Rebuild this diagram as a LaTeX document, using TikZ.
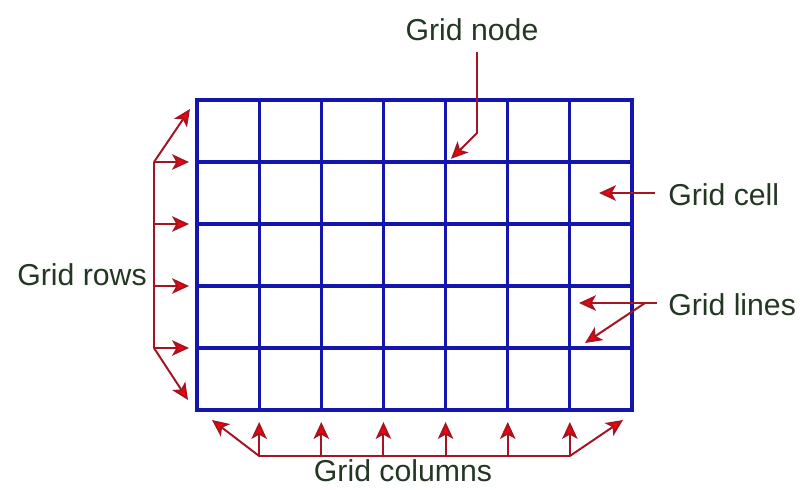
\documentclass[tikz,border=0pt]{standalone}
\usepackage{fontspec}
\setmainfont{Liberation Sans}
\usetikzlibrary{arrows.meta,positioning,calc}
\definecolor{gridblue}{RGB}{20,20,175}
\definecolor{darkred}{RGB}{165,20,35}
\definecolor{labelgreen}{RGB}{35,55,35}

\begin{document}
\begin{tikzpicture}[>={Stealth[length=12pt,width=11pt,inset=3pt,fill=red]},
  gridline/.style={gridblue, line width=2.2pt},
  bracket/.style={darkred, line width=1.4pt},
  pointer/.style={->, darkred, line width=1.4pt},
  lbl/.style={labelgreen, font=\fontsize{21.5}{24}\selectfont, inner sep=0pt}]
  \useasboundingbox (-4.925,-1.975) rectangle (15.2,10.25);
  % Grid
  \foreach \i in {1,...,6}
    \draw[gridline] (1.5536*\i,0) -- (1.5536*\i,7.75);
  \foreach \j in {1,...,4}
    \draw[gridline] (0,1.55*\j) -- (10.875,1.55*\j);
  \draw[gridline] (0,0) rectangle (10.875,7.75);
  % Grid rows
  \node[lbl, anchor=base east] (rows) at (-1.25,3.125) {Grid rows};
  \coordinate (rtop) at (-1.075,6.2);
  \coordinate (rbot) at (-1.075,1.55);
  \draw[bracket] (rtop) -- (rbot);
  \foreach \j in {1,...,4}
    \draw[pointer] (-1.075,1.55*\j) -- (-0.2,1.55*\j);
  \draw[pointer] (rtop) -- (-0.175,7.525);
  \draw[pointer] (rbot) -- (-0.225,0.25);
  % Grid columns
  \node[lbl, anchor=base] (cols) at (5.15,-1.78) {Grid columns};
  \coordinate (cleft) at (1.5536,-1.15);
  \coordinate (cright) at (9.3216,-1.15);
  \draw[bracket] (cleft) -- (cright);
  \foreach \i in {1,...,6}
    \draw[pointer] (1.5536*\i,-1.15) -- (1.5536*\i,-0.3);
  \draw[pointer] (cleft) -- (0.375,-0.25);
  \draw[pointer] (cright) -- (10.65,-0.25);
  % Grid node
  \node[lbl, anchor=base] (gnode) at (6.875,9.25) {Grid node};
  \coordinate (nstart) at (7.0,8.95);
  \coordinate (nbend) at (7.0,6.925);
  \draw[pointer] (nstart) -- (nbend) -- (6.35,6.28);
  % Grid cell
  \node[lbl, anchor=base west] (cell) at (11.775,5.125) {Grid cell};
  \coordinate (cstart) at (11.45,5.425);
  \draw[pointer] (cstart) -- (10.05,5.425);
  % Grid lines
  \node[lbl, anchor=base west] (lines) at (11.775,2.375) {Grid lines};
  \coordinate (lstart) at (11.5,2.675);
  \draw[pointer] (lstart) -- (9.55,2.675);
  \draw[pointer] ($(lstart)+(-0.3,0)$) -- (9.7,1.675);
\end{tikzpicture}
\end{document}
